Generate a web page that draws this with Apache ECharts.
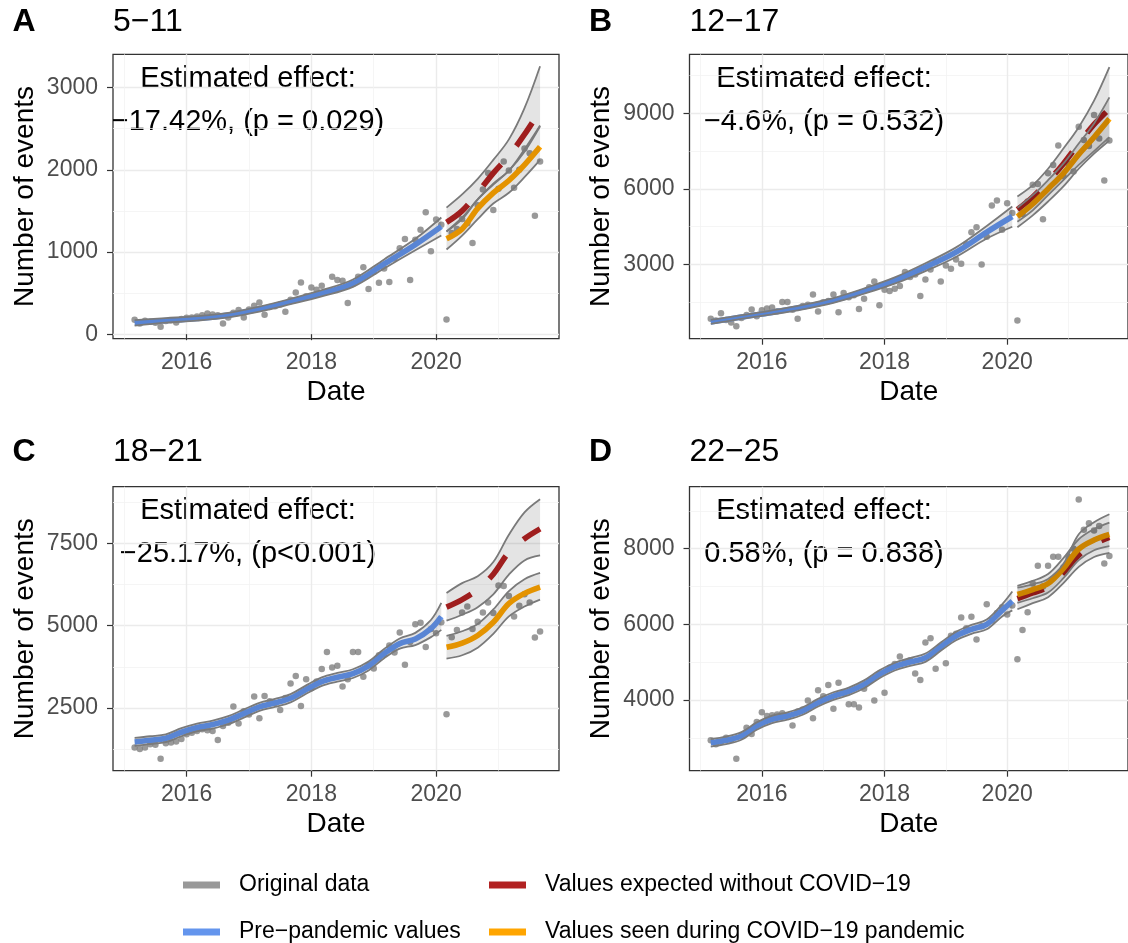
<!DOCTYPE html>
<html>
<head>
<meta charset="utf-8">
<title>Events by age group before and during COVID-19</title>
<script src="https://cdn.jsdelivr.net/npm/echarts@6.0.0/dist/echarts.min.js"></script>
<style>
  html, body { margin: 0; padding: 0; background: #fff; }
  #chart { width: 1128px; height: 943px; }
</style>
</head>
<body>
<div id="chart"></div>
<script>
const FONT = '"Liberation Sans", Arial, Helvetica, sans-serif';

const panelTags = ['A', 'B', 'C', 'D'];
const ageGroups = ['5−11', '12−17', '18−21', '22−25'];
const effectLabels = ['−17.42%, (p = 0.029)', '−4.6%, (p = 0.532)', '−25.17%, (p<0.001)', '0.58%, (p = 0.838)'];

// monthly counts, March 2015 .. September 2021 (index 60 = March 2020)
const firstMonth = [2015, 2];
const countsA = [175, 130, 163, 150, 140, 89, 160, 170, 142, 185, 200, 203, 215, 230, 252, 240, 230, 130, 203, 260,
  293, 203, 300, 346, 386, 236, 330, 340, 360, 272, 420, 508, 630, 460, 569, 540, 589, 520, 699, 660,
  650, 378, 610, 700, 813, 549, 760, 626, 800, 634, 920, 1045, 1159, 659, 1150, 1272, 1484, 1008, 1394, 1330,
  180, 1230, 1280, 1400, 1350, 1110, 1570, 1760, 1960, 1510, 1770, 2100, 1990, 1780, 2000, 2260, 2200, 1440, 2100];
const countsB = [850, 780, 1070, 800, 700, 550, 880, 1000, 1210, 950, 1180, 1250, 1290, 1150, 1510, 1510, 1200, 850, 1350, 1400,
  1810, 1140, 1500, 1550, 1810, 1110, 1870, 1700, 1780, 1230, 1640, 2100, 2330, 1380, 2000, 1950, 2040, 2150, 2700, 2500,
  2600, 1750, 2410, 2800, 3100, 2330, 2960, 2830, 3200, 3030, 3800, 4280, 4480, 3000, 4100, 5340, 5540, 4380, 5430, 5040,
  780, 5000, 5500, 6160, 6190, 4800, 6620, 6950, 7720, 6500, 7000, 6690, 8470, 7940, 7700, 8930, 8000, 6330, 7920];
const countsC = [1300, 1250, 1300, 1400, 1380, 960, 1430, 1450, 1480, 1560, 1700, 1750, 1800, 1850, 1820, 1800, 1530, 1950, 2050, 2540,
  2030, 2400, 2300, 2850, 2190, 2860, 2700, 2650, 2440, 2800, 3240, 3470, 2560, 3370, 3100, 3300, 3680, 4200, 3730, 3780,
  3150, 3370, 4200, 4200, 3450, 3800, 3700, 4100, 4130, 4400, 4180, 4790, 3810, 4500, 5040, 5090, 4350, 4900, 4770, 5100,
  2310, 4650, 4870, 5400, 5580, 4900, 5120, 5400, 5700, 5380, 6220, 6200, 5900, 5280, 5600, 5950, 5700, 4640, 4820];
const countsD = [2940, 2830, 2900, 3000, 2950, 2450, 3050, 3270, 3100, 3420, 3680, 3580, 3600, 3620, 3650, 3600, 3330, 3700, 3750, 3990,
  3520, 4260, 4100, 4400, 3770, 4460, 4200, 3890, 3890, 3800, 4300, 4500, 3990, 4700, 4190, 4850, 4950, 5150, 5000, 5050,
  4700, 4530, 5520, 5630, 4830, 5400, 4970, 5700, 5750, 6180, 5900, 6200, 5600, 5950, 6530, 6100, 6300, 6450, 6260, 6500,
  5080, 5850, 6320, 7080, 7550, 7000, 7550, 7790, 7790, 7500, 7780, 8000, 9300, 8500, 8670, 8480, 8600, 7610, 7810];

// month indexes where the fitted curves were read
const fitKnotsAB = [0, 6, 12, 18, 24, 30, 36, 42, 48, 54, 59];
const fitKnotsCD = [0, 3, 6, 9, 12, 15, 18, 21, 24, 27, 30, 33, 36, 39, 42, 45, 48, 51, 54, 57, 59];
const postKnots = [60, 63, 66, 69, 72, 75, 78];

const preFitA = [138, 167, 191, 232, 305, 398, 496, 618, 854, 1089, 1309];
const preLoA = [105, 140, 165, 205, 275, 365, 460, 575, 800, 1020, 1200];
const preHiA = [170, 195, 220, 260, 335, 430, 535, 665, 910, 1160, 1420];
const expFitA = [1360, 1500, 1720, 1960, 2170, 2430, 2720];
const expLoA = [1250, 1420, 1640, 1830, 1990, 2250, 2540];
const expHiA = [1540, 1700, 1890, 2120, 2370, 2750, 3260];
const obsFitA = [1160, 1280, 1530, 1720, 1870, 2060, 2280];
const obsLoA = [1030, 1200, 1400, 1590, 1720, 1910, 2120];
const obsHiA = [1250, 1400, 1640, 1820, 1990, 2220, 2530];

const preFitB = [717, 915, 1100, 1311, 1576, 1946, 2369, 2897, 3491, 4284, 4905];
const preLoB = [640, 840, 1020, 1220, 1480, 1840, 2240, 2740, 3300, 4030, 4500];
const preHiB = [800, 990, 1180, 1400, 1670, 2050, 2490, 3050, 3680, 4530, 5300];
const expFitB = [5180, 5680, 6300, 7000, 7800, 8560, 9180];
const expLoB = [4700, 5150, 5750, 6350, 6950, 7500, 8050];
const expHiB = [5700, 6150, 6800, 7600, 8450, 9500, 10830];
const obsFitB = [4900, 5400, 6000, 6620, 7370, 8050, 8780];
const obsLoB = [4480, 4950, 5500, 6100, 6800, 7400, 7920];
const obsHiB = [5250, 5750, 6350, 7000, 7800, 8600, 9630];

const preFitC = [1468, 1519, 1580, 1762, 1904, 1995, 2127, 2329, 2532, 2653, 2795, 3058, 3300, 3432, 3543, 3776, 4150, 4454, 4596, 4910, 5274];
const preLoC = [1350, 1400, 1460, 1640, 1785, 1875, 2005, 2205, 2410, 2530, 2670, 2930, 3170, 3300, 3410, 3640, 4010, 4300, 4410, 4650, 4870];
const preHiC = [1590, 1640, 1700, 1885, 2025, 2115, 2250, 2455, 2655, 2775, 2920, 3185, 3430, 3565, 3675, 3910, 4290, 4610, 4780, 5170, 5690];
const expFitC = [5560, 5790, 6100, 6560, 7230, 7640, 7940];
const expLoC = [5150, 5330, 5560, 5950, 6550, 6980, 7130];
const expHiC = [5990, 6290, 6500, 6930, 7760, 8440, 8840];
const obsFitC = [4340, 4470, 4700, 5100, 5670, 5980, 6170];
const obsLoC = [4000, 4100, 4330, 4750, 5280, 5580, 5790];
const obsHiC = [4690, 4830, 5050, 5490, 6050, 6410, 6600];

const preFitD = [2873, 2934, 3049, 3313, 3489, 3577, 3710, 3930, 4106, 4230, 4414, 4679, 4881, 5005, 5119, 5410, 5692, 5868, 6000, 6370, 6617];
const preLoD = [2770, 2835, 2950, 3215, 3390, 3480, 3610, 3830, 4005, 4130, 4310, 4575, 4780, 4900, 5010, 5300, 5580, 5750, 5870, 6210, 6370];
const preHiD = [2975, 3035, 3150, 3410, 3590, 3675, 3810, 4030, 4205, 4330, 4520, 4785, 4985, 5110, 5230, 5520, 5805, 5985, 6130, 6530, 6870];
const expFitD = [6680, 6830, 6990, 7360, 7830, 8120, 8300];
const expLoD = [6400, 6560, 6720, 7090, 7520, 7780, 7890];
const expHiD = [6970, 7060, 7200, 7600, 8380, 8700, 8910];
const obsFitD = [6790, 6920, 7080, 7480, 7990, 8230, 8380];
const obsLoD = [6570, 6690, 6840, 7220, 7700, 7960, 8070];
const obsHiD = [7020, 7150, 7330, 7750, 8250, 8520, 8690];

// axes (x in decimal years)
const xMajorYears = [2016, 2018, 2020];
const xMinorYears = [2015, 2017, 2019, 2021];
const xRange = [2014.82, 2021.97];
const yRangeA = [-55, 3405], yMajorA = [0, 1000, 2000, 3000], yMinorA = [500, 1500, 2500];
const yRangeB = [56, 11341], yMajorB = [3000, 6000, 9000], yMinorB = [1500, 4500, 7500, 10500];
const yRangeC = [594, 9219], yMajorC = [2500, 5000, 7500], yMinorC = [1250, 3750, 6250, 8750];
const yRangeD = [2132, 9639], yMajorD = [4000, 6000, 8000], yMinorD = [3000, 5000, 7000, 9000];

const monthPos = i => firstMonth[0] + (firstMonth[1] + i) / 12;

const panels = [
  { counts: countsA, knots: fitKnotsAB, preFit: preFitA, preLo: preLoA, preHi: preHiA, expFit: expFitA, expLo: expLoA, expHi: expHiA, obsFit: obsFitA, obsLo: obsLoA, obsHi: obsHiA, yRange: yRangeA, yMajor: yMajorA, yMinor: yMinorA },
  { counts: countsB, knots: fitKnotsAB, preFit: preFitB, preLo: preLoB, preHi: preHiB, expFit: expFitB, expLo: expLoB, expHi: expHiB, obsFit: obsFitB, obsLo: obsLoB, obsHi: obsHiB, yRange: yRangeB, yMajor: yMajorB, yMinor: yMinorB },
  { counts: countsC, knots: fitKnotsCD, preFit: preFitC, preLo: preLoC, preHi: preHiC, expFit: expFitC, expLo: expLoC, expHi: expHiC, obsFit: obsFitC, obsLo: obsLoC, obsHi: obsHiC, yRange: yRangeC, yMajor: yMajorC, yMinor: yMinorC },
  { counts: countsD, knots: fitKnotsCD, preFit: preFitD, preLo: preLoD, preHi: preHiD, expFit: expFitD, expLo: expLoD, expHi: expHiD, obsFit: obsFitD, obsLo: obsLoD, obsHi: obsHiD, yRange: yRangeD, yMajor: yMajorD, yMinor: yMinorD }
];

// layout
const grids = [
  { left: 113, top: 54.3, width: 446, height: 284.4 },
  { left: 689.5, top: 54.3, width: 446, height: 284.4 },
  { left: 113, top: 486.7, width: 446, height: 284 },
  { left: 689.5, top: 486.7, width: 446, height: 284 }
];
const tagX = [12.6, 589, 12.6, 589];
const titleY = [22, 22, 452, 452];
const annotX = [248, 824, 248, 824];
const annotY = [[79, 122], [79, 122], [511, 554], [511, 554]];

const BLUE = '#6495ED', RED = '#B22222', ORANGE = '#FFA500', GREY = '#7f7f7f';

const pairs = (knots, vals) => knots.map((k, j) => [monthPos(k), vals[j]]);

const xAxes = [], yAxes = [], series = [], graphics = [];

panels.forEach((p, g) => {
  xAxes.push({
    type: 'value', gridIndex: g, min: xRange[0], max: xRange[1],
    name: 'Date', nameLocation: 'middle', nameGap: 40,
    nameTextStyle: { fontSize: 28, color: '#000', fontFamily: FONT },
    axisLine: { show: false },
    axisTick: { show: true, length: 6, lineStyle: { color: '#333', width: 1.2 }, customValues: xMajorYears },
    axisLabel: { customValues: xMajorYears, formatter: v => String(Math.round(v)),
      fontSize: 23, color: '#4d4d4d', margin: 12, fontFamily: FONT },
    splitLine: { show: true, lineStyle: { color: '#ebebeb', width: 1.4 } }
  });
  xAxes.push({
    type: 'value', gridIndex: g, min: xRange[0], max: xRange[1],
    axisLine: { show: false },
    axisTick: { show: false, customValues: xMinorYears },
    axisLabel: { show: false },
    splitLine: { show: true, lineStyle: { color: '#f3f3f3', width: 0.8 } }
  });
  yAxes.push({
    type: 'value', gridIndex: g, min: p.yRange[0], max: p.yRange[1],
    name: 'Number of events', nameLocation: 'middle', nameGap: 74,
    nameTextStyle: { fontSize: 28, color: '#000', fontFamily: FONT },
    axisLine: { show: false },
    axisTick: { show: true, length: 6, lineStyle: { color: '#333', width: 1.2 }, customValues: p.yMajor },
    axisLabel: { customValues: p.yMajor, formatter: v => String(v), fontSize: 23, color: '#4d4d4d', margin: 15, fontFamily: FONT },
    splitLine: { show: true, lineStyle: { color: '#ebebeb', width: 1.4 } }
  });
  yAxes.push({
    type: 'value', gridIndex: g, min: p.yRange[0], max: p.yRange[1],
    axisLine: { show: false },
    axisTick: { show: false, customValues: p.yMinor },
    axisLabel: { show: false },
    splitLine: { show: true, lineStyle: { color: '#f3f3f3', width: 0.8 } }
  });

  const ax = { xAxisIndex: g * 2, yAxisIndex: g * 2 };
  const preKnots = p.knots;

  series.push({
    ...ax, type: 'scatter', name: 'Original data', z: 2, symbolSize: 6.5,
    itemStyle: { color: GREY }, silent: true,
    data: p.counts.map((v, i) => [monthPos(i), v])
  });

  const fitLine = (name, knots, vals, color, dash) => ({
    ...ax, type: 'line', name, z: 3, smooth: 0.35, symbol: 'none', silent: true,
    lineStyle: { color, width: 5.6, type: dash || 'solid', cap: 'butt' },
    data: pairs(knots, vals)
  });
  series.push(fitLine('Pre−pandemic values', preKnots, p.preFit, BLUE));
  series.push(fitLine('Values expected without COVID−19', postKnots, p.expFit, RED, [28, 24]));
  series.push(fitLine('Values seen during COVID−19 pandemic', postKnots, p.obsFit, ORANGE));

  // band = lower bound + stacked (upper - lower); value first so the stack runs on y
  const ribbon = (id, knots, lo, hi) => {
    const base = { ...ax, type: 'line', name: 'ci', z: 4, smooth: 0.35, symbol: 'none', silent: true,
      stack: id + g, encode: { x: 1, y: 0 }, lineStyle: { color: '#7a7a7a', width: 1.8 } };
    return [
      { ...base, data: knots.map((k, j) => [lo[j], monthPos(k)]) },
      { ...base, data: knots.map((k, j) => [hi[j] - lo[j], monthPos(k)]),
        areaStyle: { color: 'rgba(0,0,0,0.15)' } }
    ];
  };
  series.push(...ribbon('pre', preKnots, p.preLo, p.preHi));
  series.push(...ribbon('exp', postKnots, p.expLo, p.expHi));
  series.push(...ribbon('obs', postKnots, p.obsLo, p.obsHi));

  graphics.push({ type: 'text', x: tagX[g], y: titleY[g],
    style: { text: panelTags[g], fontSize: 32, fontWeight: 'bold', fontFamily: FONT, fill: '#000', verticalAlign: 'middle' } });
  graphics.push({ type: 'text', x: grids[g].left, y: titleY[g],
    style: { text: ageGroups[g], fontSize: 32, fontFamily: FONT, fill: '#000', verticalAlign: 'middle' } });
  graphics.push({ type: 'text', x: annotX[g], y: annotY[g][0],
    style: { text: 'Estimated effect:', fontSize: 29, fontFamily: FONT, fill: '#000', align: 'center', verticalAlign: 'middle' } });
  graphics.push({ type: 'text', x: annotX[g], y: annotY[g][1],
    style: { text: effectLabels[g], fontSize: 29, fontFamily: FONT, fill: '#000', align: 'center', verticalAlign: 'middle' } });
});

const legendBase = {
  orient: 'vertical', top: 873, height: 90, padding: 0, itemWidth: 37, itemHeight: 7, itemGap: 23, icon: 'rect', selectedMode: false,
  textStyle: { fontSize: 23, color: '#000', fontFamily: FONT, lineHeight: 24, padding: [0, 0, 0, 14] }
};

const chart = echarts.init(document.getElementById('chart'));
chart.setOption({
  animation: false,
  backgroundColor: '#fff',
  textStyle: { fontFamily: FONT },
  grid: grids.map(gr => ({ ...gr, show: true, borderColor: '#333', borderWidth: 1.3, backgroundColor: 'transparent' })),
  xAxis: xAxes,
  yAxis: yAxes,
  legend: [
    { ...legendBase, left: 183, data: [
      { name: 'Original data', itemStyle: { color: GREY } },
      { name: 'Pre−pandemic values', itemStyle: { color: BLUE } }
    ] },
    { ...legendBase, left: 489, data: [
      { name: 'Values expected without COVID−19', itemStyle: { color: RED } },
      { name: 'Values seen during COVID−19 pandemic', itemStyle: { color: ORANGE } }
    ] }
  ],
  graphic: graphics,
  series: series
});
</script>
</body>
</html>
